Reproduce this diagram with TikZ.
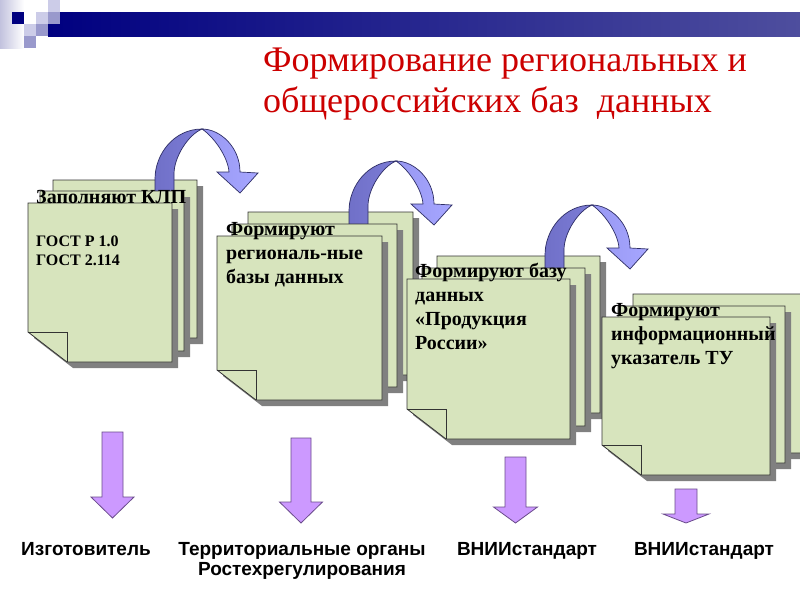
\documentclass[tikz,border=0pt]{standalone}
\usepackage{fontspec}
\setmainfont{Liberation Serif}
\setsansfont{Liberation Sans}
\definecolor{sheetfill}{HTML}{D7E4BD}
\definecolor{sheetedge}{HTML}{333333}
\definecolor{sheetshade}{HTML}{808080}
\definecolor{titlered}{HTML}{CC0000}
\definecolor{arrowviolet}{HTML}{CC99FF}
\definecolor{arrowedge}{HTML}{6B4C8C}
\definecolor{benddark}{HTML}{7070C8}
\definecolor{benddarkB}{HTML}{7C7CD6}
\definecolor{bendlight}{HTML}{9898F2}
\definecolor{bendlightB}{HTML}{A6A6FF}
\definecolor{bendedge}{HTML}{2E2E66}
\definecolor{navy}{HTML}{000080}
\definecolor{barend}{HTML}{4E4E9E}
\definecolor{sqlight}{HTML}{CCCCE8}
\definecolor{sqmid}{HTML}{9999CC}
\definecolor{sqfade}{HTML}{C2C2DE}
\tikzset{
  sheetbody/.style={fill=sheetfill,draw=sheetedge,line width=0.8pt,line join=miter},
  sheetfold/.style={draw=sheetedge,line width=0.8pt},
  sheetshadow/.style={fill=sheetshade},
  pagetext/.style={font=\bfseries\fontsize{20}{24}\selectfont,anchor=base west,inner sep=0pt,align=left,text=black},
  smalltext/.style={font=\bfseries\fontsize{16}{19}\selectfont,anchor=base west,inner sep=0pt,align=left,text=black},
  bottomlabel/.style={font=\sffamily\bfseries\fontsize{19}{20}\selectfont,anchor=base,inner sep=0pt,align=center,text=black},
  titletext/.style={font=\fontsize{36}{41}\selectfont,anchor=base west,inner sep=0pt,align=left,text=titlered},
  downarrow/.style={fill=arrowviolet,draw=arrowedge,line width=0.8pt,line join=miter},
  bendback/.style={left color=benddark,right color=benddarkB,draw=bendedge,line width=0.7pt},
  bendfront/.style={left color=bendlight,right color=bendlightB,draw=bendedge,line width=0.7pt},
}
% sheet: x0 y0 x1 y1
\newcommand\sheet[4]{%
  \fill[sheetshadow] (#1+6,#2+6) -- (#3+6,#2+6) -- (#3+6,#4+6) -- (#1+39+6,#4+6) -- (#1+6,#4-30+6) -- cycle;
  \draw[sheetbody] (#1,#2) -- (#3,#2) -- (#3,#4) -- (#1+39,#4) -- (#1,#4-30) -- cycle;
  \draw[sheetfold] (#1,#4-30) -- (#1+39,#4-30) -- (#1+39,#4);
}
% curved arrow, back (dark) half, apex at #1,#2
\newcommand\bendbackpart[2]{%
  \begin{scope}[shift={(#1,#2)}]
    \draw[bendback] (0,0) .. controls (-28,0) and (-47,25) .. (-47,50) -- (-47,66) -- (-28,66) -- (-28,45) .. controls (-28,28) and (-14,6) .. (0,0) -- cycle;
  \end{scope}}
% curved arrow, front (light) half with head
\newcommand\bendfrontpart[2]{%
  \begin{scope}[shift={(#1,#2)}]
    \draw[bendfront,line join=miter] (0,0) .. controls (18,0) and (38,18) .. (38,43) -- (56,44) -- (38,64) -- (15,43) -- (27,43) .. controls (26,28) and (12,8) .. (0,0) -- cycle;
  \end{scope}}
% straight down arrow: cx ytop yhead ytip shafthalf headhalf
\newcommand\downarrowshape[6]{%
  \draw[downarrow] (#1-#5,#2) -- (#1+#5,#2) -- (#1+#5,#3) -- (#1+#6,#3) -- (#1,#4) -- (#1-#6,#3) -- (#1-#5,#3) -- cycle;
}
\begin{document}
\begin{tikzpicture}[x=1pt,y=-1pt]
\useasboundingbox (0,0) rectangle (800,600);
\fill[white] (0,0) rectangle (800,600);

% ---- top-left decoration ----
\shade[left color=sqfade,right color=white] (0,0) rectangle (24,48);
\fill[navy] (12,12) rectangle (24,24);
\shade[left color=navy,right color=barend] (48,12) rectangle (800,36);
\fill[sqlight] (36,12) rectangle (48,24);
\fill[sqlight] (48,0) rectangle (60,12);
\fill[sqmid] (48,12) rectangle (60,24);
\fill[sqlight] (24,24) rectangle (36,36);
\fill[sqmid] (36,24) rectangle (48,36);
\fill[sqmid] (24,36) rectangle (36,48);

% ---- title (base anchor = last line) ----
\node[titletext] (title) at (263,112) {Формирование региональных и\\общероссийских баз~ данных};

% ---- stack 1 ----
\sheet{53}{180}{197}{338}
\bendbackpart{202}{129}
\sheet{40}{191}{184}{351}
\sheet{28}{203}{172}{362}
\bendfrontpart{202}{129}
\node[pagetext] (t1) at (36,203) {Заполняют КЛП};
\node[smalltext] (t1b) at (36,265) {ГОСТ Р 1.0\\ГОСТ 2.114};

% ---- stack 2 ----
\sheet{248}{212}{413}{375}
\bendbackpart{396}{161}
\sheet{232}{224}{397}{387}
\sheet{217}{236}{382}{400}
\bendfrontpart{396}{161}
\node[pagetext] (t2) at (226,283) {Формируют\\региональ-ные\\базы данных};

% ---- stack 3 ----
\sheet{437}{256}{600}{413}
\bendbackpart{592}{205}
\sheet{422}{268}{585}{426}
\sheet{407}{279}{570}{439}
\bendfrontpart{592}{205}
\node[pagetext] (t3) at (415,349) {Формируют базу\\данных\\«Продукция\\России»};

% ---- stack 4 ----
\sheet{633}{294}{806}{453}
\sheet{618}{306}{785}{463}
\sheet{602}{317}{770}{475}
\node[pagetext] (t4) at (611,364) {Формируют\\информационный\\указатель ТУ};

% ---- down arrows ----
\downarrowshape{112.5}{432}{497}{518}{10.5}{21.5}
\downarrowshape{301}{438}{502}{523}{10}{21.5}
\downarrowshape{515.5}{457}{507}{523}{10.5}{22}
\downarrowshape{686}{489}{514}{523}{11}{23}

% ---- bottom labels ----
\node[bottomlabel] (b1) at (86,555) {Изготовитель};
\node[bottomlabel] (b2) at (302,575) {Территориальные органы\\Ростехрегулирования};
\node[bottomlabel] (b3) at (527,555) {ВНИИстандарт};
\node[bottomlabel] (b4) at (704,555) {ВНИИстандарт};
\end{tikzpicture}
\end{document}
